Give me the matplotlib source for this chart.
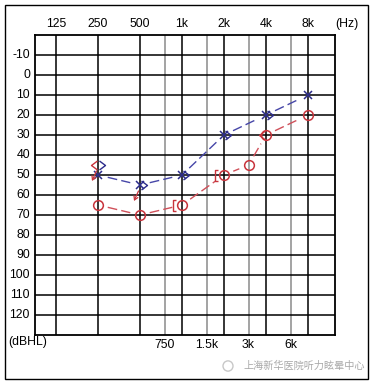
import numpy as np
import matplotlib
matplotlib.use("Agg")
import matplotlib.pyplot as plt
from matplotlib.path import Path
from matplotlib.patches import Rectangle, Circle
from matplotlib.transforms import offset_copy

# ---------------- data ----------------
major_freqs = [125, 250, 500, 1000, 2000, 4000, 8000]
major_labels = ["125", "250", "500", "1k", "2k", "4k", "8k"]
minor_freqs = [750, 1500, 3000, 6000]
minor_labels = ["750", "1.5k", "3k", "6k"]
db_ticks = [-10, 0, 10, 20, 30, 40, 50, 60, 70, 80, 90, 100, 110, 120]

# right ear air conduction (red circles)
right_air_freqs = [250, 500, 1000, 2000, 3000, 4000, 8000]
right_air_db = [65, 70, 65, 50, 45, 30, 20]
# left ear air conduction (blue crosses)
left_air_freqs = [250, 500, 1000, 2000, 4000, 8000]
left_air_db = [50, 55, 50, 30, 20, 10]
# left bone conduction unmasked (blue ">")
left_bone_freqs = [250, 500, 1000, 2000, 4000]
left_bone_db = [45, 55, 50, 30, 20]
# right bone conduction unmasked (red "<")
right_bone_freqs = [250, 4000]
right_bone_db = [45, 30]
# right bone conduction masked (red "[")
right_mbone_freqs = [1000, 2000]
right_mbone_db = [65, 50]
# red no-response arrows
right_arrow_freqs = [250, 500]
right_arrow_db = [48, 58]

RED = "#c8343c"
RED_LINE = "#d0505a"
BLUE = "#2c2c8c"
BLUE_LINE = "#4646a8"

W, H, DPI = 373, 382, 100
fig = plt.figure(figsize=(W / DPI, H / DPI), dpi=DPI)
plt.rcParams['font.family'] = ['Liberation Sans', 'DejaVu Sans']

L, R, T, B = 35, 335, 35, 335
ax = fig.add_axes([L / W, 1 - B / H, (R - L) / W, (B - T) / H])
ax.set_xlim(-0.5, 6.643)
ax.set_ylim(130, -20)
ax.set_xticks([])
ax.set_yticks([])
for s in ax.spines.values():
    s.set_linewidth(1.3)
    s.set_color("black")


def oc(f):
    return np.log2(np.asarray(f, dtype=float) / 125.0)


# grid
for f in minor_freqs:
    ax.axvline(oc(f), color="#8a8a8a", lw=1.1, zorder=1)
for f in major_freqs:
    ax.axvline(oc(f), color="black", lw=1.1, zorder=1.5)
for d in db_ticks:
    ax.axhline(d, color="black", lw=1.1, zorder=1.5)

fs = 8.8
for f, lab in zip(major_freqs, major_labels):
    ax.text(oc(f), -25.5, lab, ha="center", va="center", fontsize=fs, clip_on=False)
ax.text(6.93, -25.5, "(Hz)", ha="center", va="center", fontsize=fs, clip_on=False)
for f, lab in zip(minor_freqs, minor_labels):
    ax.text(oc(f), 135, lab, ha="center", va="center", fontsize=fs, clip_on=False)
for d in db_ticks:
    ax.text(-0.62, d, str(d), ha="right", va="center", fontsize=fs, clip_on=False)
ax.text(-1.14, 133.5, "(dBHL)", ha="left", va="center", fontsize=fs, clip_on=False)


# connecting lines with gaps at markers
def gapped_line(freqs, dbs, color, gap=10):
    pts = ax.transData.transform(np.column_stack([oc(freqs), dbs]))
    inv = ax.transData.inverted()
    for p0, p1 in zip(pts[:-1], pts[1:]):
        v = p1 - p0
        n = np.hypot(*v)
        u = v / n
        a = inv.transform(p0 + u * gap)
        b = inv.transform(p1 - u * gap)
        ax.plot([a[0], b[0]], [a[1], b[1]], color=color, lw=1.0,
                linestyle=(0, (7, 3)), zorder=3, solid_capstyle="butt",
                dash_capstyle="butt")


gapped_line(left_air_freqs, left_air_db, BLUE_LINE)
gapped_line(right_air_freqs, right_air_db, RED_LINE)


def path_marker(verts_px):
    v = np.asarray(verts_px, dtype=float)
    m = np.abs(v).max()
    codes = [Path.MOVETO] + [Path.LINETO] * (len(v) - 1)
    ms = 2 * m / (DPI / 72.0)
    return Path(v / m * 0.5, codes), ms


gt_path, gt_ms = path_marker([(1.0, 4.5), (7.0, 0), (1.0, -4.5)])
lt_path, lt_ms = path_marker([(-1.0, 4.5), (-7.0, 0), (-1.0, -4.5)])
br_path, br_ms = path_marker([(-6, 5.5), (-9.5, 5.5), (-9.5, -5.5), (-6, -5.5)])

ax.plot(oc(right_air_freqs), right_air_db, linestyle="none", marker="o",
        ms=7.0, mfc="none", mec=RED, mew=1.1, zorder=5)
ax.plot(oc(left_air_freqs), left_air_db, linestyle="none", marker="x",
        ms=6.0, mec=BLUE, mew=1.1, zorder=5)
ax.plot(oc(left_bone_freqs), left_bone_db, linestyle="none", marker=gt_path,
        ms=gt_ms, mfc="none", mec=BLUE, mew=1.0, zorder=5)
ax.plot(oc(right_bone_freqs), right_bone_db, linestyle="none", marker=lt_path,
        ms=lt_ms, mfc="none", mec=RED, mew=1.0, zorder=5)
ax.plot(oc(right_mbone_freqs), right_mbone_db, linestyle="none", marker=br_path,
        ms=br_ms, mfc="none", mec=RED, mew=1.0, zorder=5)

# red small arrows
start_tr = offset_copy(ax.transData, fig=fig, x=-1.5, y=0, units="dots")
tip_tr = offset_copy(ax.transData, fig=fig, x=-6, y=-10, units="dots")
for f, d in zip(right_arrow_freqs, right_arrow_db):
    ax.annotate("", xy=(oc(f), d), xycoords=tip_tr, xytext=(oc(f), d),
                textcoords=start_tr,
                arrowprops=dict(arrowstyle="->,head_length=0.25,head_width=0.15",
                                color=RED, lw=0.9, shrinkA=0, shrinkB=0),
                zorder=6, annotation_clip=False)

# outer frame
fig.patches.append(Rectangle((5 / W, 1 - 379 / H), 363 / W, 374 / H,
                             transform=fig.transFigure, fill=False,
                             edgecolor="black", lw=1.0))

# watermark
fig.patches.append(Circle((228 / W, 1 - 366 / H), 5 / W, transform=fig.transFigure,
                          fill=False, edgecolor="#c8c8c8", lw=1.0))
fig.text(243 / W, 1 - 366 / H, "上海新华医院听力眩晕中心", ha="left", va="center",
         fontsize=7.3, color="#a8a8a8",
         family=["Noto Sans CJK SC", "DejaVu Sans"])

fig.savefig("out.png", dpi=DPI)
